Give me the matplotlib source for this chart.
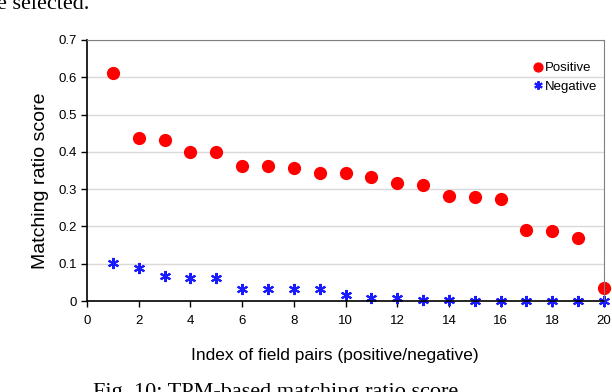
import matplotlib
matplotlib.use("Agg")
import matplotlib.pyplot as plt

# data
idx = list(range(1, 21))
positive = [0.612, 0.436, 0.432, 0.400, 0.399, 0.362, 0.361, 0.357, 0.343, 0.343,
            0.332, 0.316, 0.311, 0.281, 0.279, 0.273, 0.190, 0.188, 0.168, 0.034]
negative = [0.103, 0.089, 0.067, 0.063, 0.061, 0.033, 0.032, 0.031, 0.031, 0.015,
            0.009, 0.007, 0.004, 0.002, 0.001, 0.001, 0.001, 0.001, 0.001, 0.001]
xticks = list(range(0, 21, 2))
yticks = [0, 0.1, 0.2, 0.3, 0.4, 0.5, 0.6, 0.7]

sans = "Liberation Sans"
serif = "Liberation Serif"

fig = plt.figure(figsize=(6.12, 3.92), dpi=100)
ax = fig.add_axes([87 / 612, 1 - 301 / 392, 517 / 612, 261 / 392])

ax.plot(idx, positive, linestyle="none", marker="o", color="#ff0000",
        markersize=8.5, label="Positive")
ax.plot(idx, negative, linestyle="none", marker=(6, 2, 0), color="#1a1aff",
        markersize=8, markeredgewidth=1.5, label="Negative")

ax.set_xlim(0, 20)
ax.set_ylim(0, 0.7)
ax.set_xticks(xticks)
ax.set_yticks(yticks)
ax.set_yticklabels(["0" if v == 0 else f"{v:.1f}" for v in yticks])
ax.yaxis.grid(True, color="#d9d9d9", linewidth=1)
ax.set_axisbelow(True)
for side in ["top", "right"]:
    ax.spines[side].set_color("#808080")
for side in ["left", "bottom"]:
    ax.spines[side].set_color("black")
    ax.spines[side].set_linewidth(1.2)
ax.tick_params(direction="out", length=4, width=1, labelsize=9.5)
ax.tick_params(axis="x", pad=6)
ax.tick_params(axis="y", pad=3)
for lab in ax.get_xticklabels() + ax.get_yticklabels():
    lab.set_family(sans)
for p in ax.lines:
    p.set_clip_on(False)

ax.set_xlabel("Index of field pairs (positive/negative)", family=sans, fontsize=12.5)
ax.set_ylabel("Matching ratio score", family=sans, fontsize=14)
ax.xaxis.set_label_coords(0.48, -0.18)
ax.yaxis.set_label_coords(-0.074, 0.46)

leg = ax.legend(loc="upper right", bbox_to_anchor=(0.997, 0.935), frameon=False,
                handlelength=0.5, handletextpad=0.3, borderaxespad=0.0,
                labelspacing=0.45, markerscale=0.75, prop={"family": sans, "size": 9.5})

# surrounding paper text, clipped by the figure edges as in the reference
fig.text(-0.005, 1.012, "e selected.", family=serif, fontsize=16, va="top", ha="left")
fig.text(93 / 612, -0.025, "Fig. 10: TPM-based matching ratio score", family=serif,
         fontsize=16, va="bottom", ha="left")

fig.savefig("out.png", dpi=100)
